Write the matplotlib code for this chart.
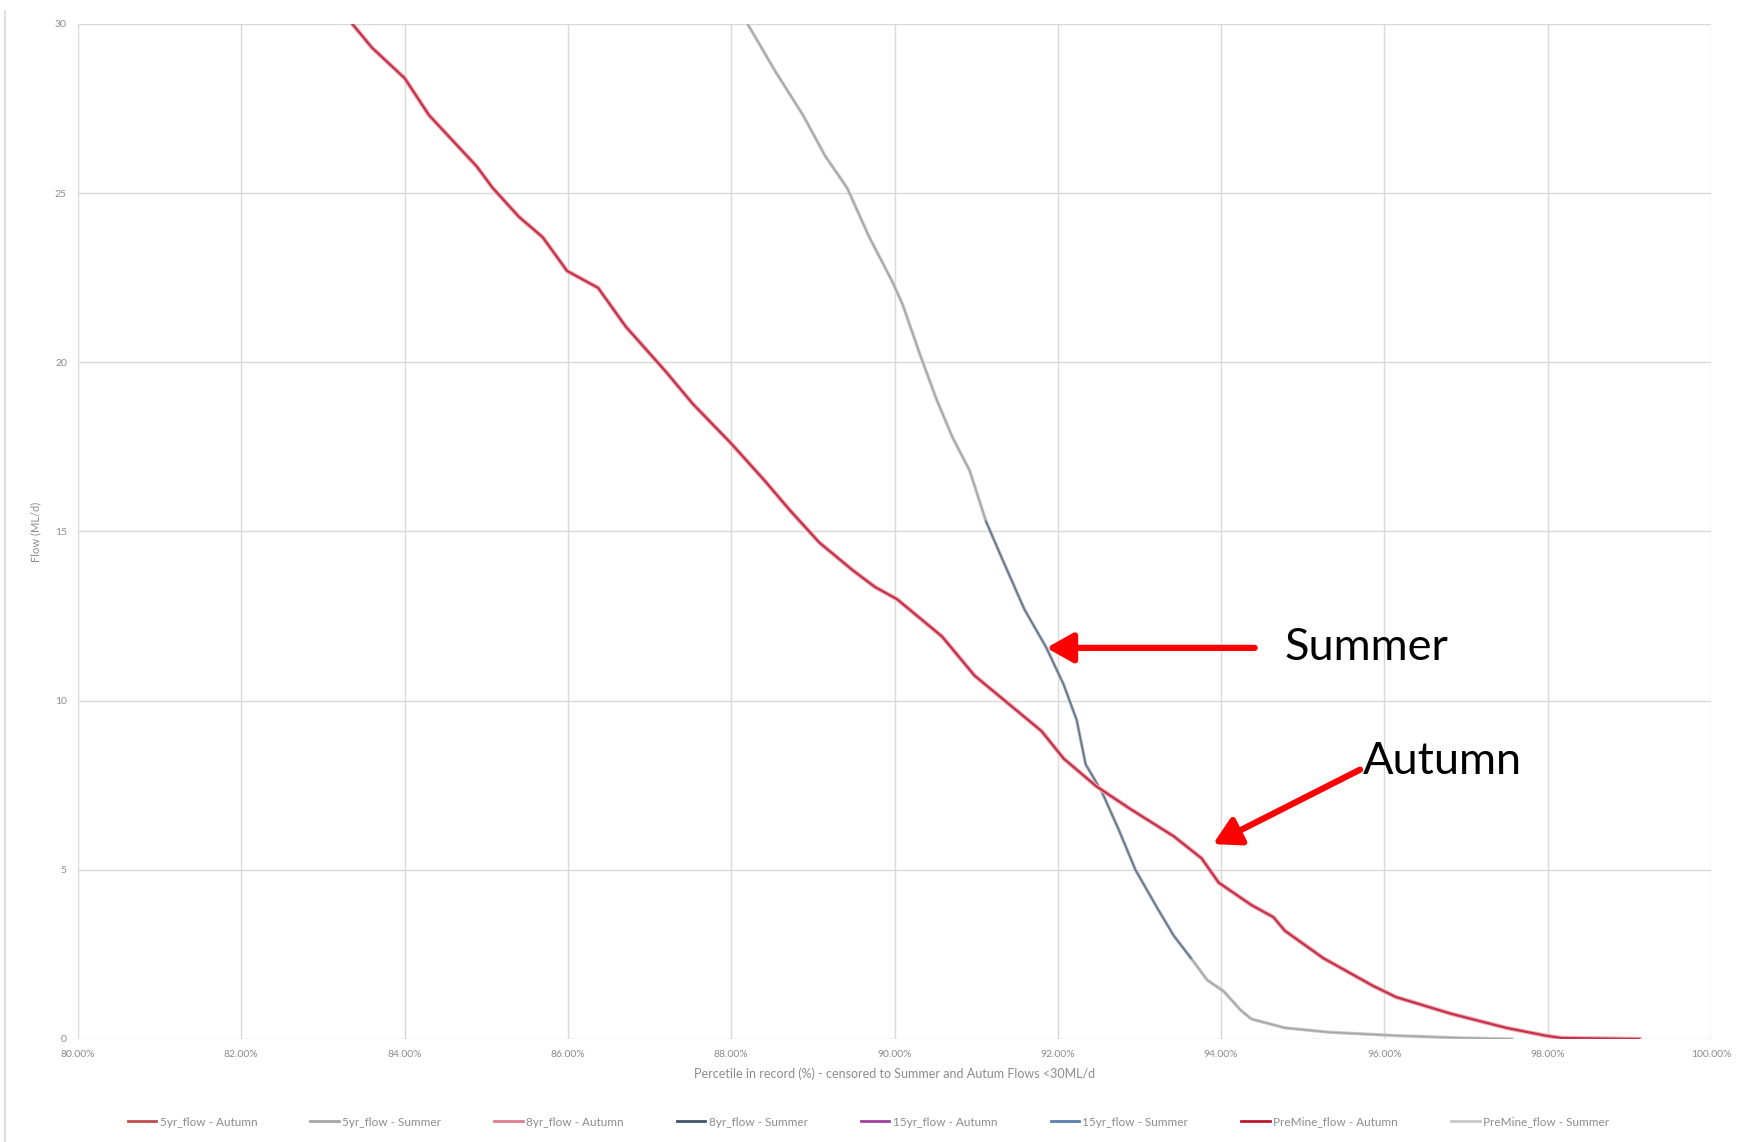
import matplotlib
matplotlib.use("Agg")
import matplotlib.pyplot as plt
import numpy as np

# Flow duration curves, censored to flows < 30 ML/d
autumn_pct = [83.36, 83.60, 84.00, 84.30, 84.88, 85.08, 85.40, 85.69, 85.99, 86.37,
              86.71, 87.19, 87.53, 88.00, 88.41, 88.71, 89.08, 89.49, 89.76, 90.03,
              90.58, 90.98, 91.39, 91.80, 92.07, 92.47, 92.88, 93.42, 93.76, 93.97,
              94.37, 94.64, 94.78, 95.25, 95.86, 96.14, 96.81, 97.49, 97.97, 98.17,
              99.12]
autumn_flow = [30.0, 29.3, 28.4, 27.3, 25.8, 25.15, 24.3, 23.7, 22.7, 22.2,
               21.05, 19.75, 18.77, 17.6, 16.5, 15.65, 14.67, 13.85, 13.36, 13.0,
               11.9, 10.74, 9.92, 9.1, 8.29, 7.47, 6.81, 5.99, 5.34, 4.62,
               3.96, 3.6, 3.2, 2.39, 1.57, 1.24, 0.75, 0.33, 0.1, 0.03,
               0.0]

summer_pct = [88.20, 88.54, 88.88, 89.15, 89.42, 89.69, 89.97, 90.10, 90.31, 90.51,
              90.71, 90.92, 91.12, 91.32, 91.59, 91.86, 92.07, 92.23, 92.34, 92.54,
              92.75, 92.95, 93.22, 93.42, 93.63, 93.83, 94.03, 94.24, 94.37, 94.78,
              95.32, 96.14, 96.95, 97.56]
summer_flow = [30.0, 28.6, 27.3, 26.1, 25.15, 23.7, 22.4, 21.7, 20.24, 18.93,
               17.78, 16.8, 15.3, 14.18, 12.7, 11.56, 10.48, 9.43, 8.12, 7.3,
               6.16, 5.0, 3.86, 3.05, 2.39, 1.74, 1.41, 0.85, 0.59, 0.33,
               0.2, 0.1, 0.03, 0.0]

# Portion of the summer curve where the 8yr/15yr series show through
summer_mid_pct = summer_pct[12:25]
summer_mid_flow = summer_flow[12:25]

series_names = ["5yr_flow - Autumn", "5yr_flow - Summer", "8yr_flow - Autumn",
                "8yr_flow - Summer", "15yr_flow - Autumn", "15yr_flow - Summer",
                "PreMine_flow - Autumn", "PreMine_flow - Summer"]
series_colors = ["#c0504d", "#a5a5a5", "#e07b91", "#44546a",
                 "#a040a0", "#5b7fae", "#c0182f", "#c8c8c8"]

x_ticks = [80, 82, 84, 86, 88, 90, 92, 94, 96, 98, 100]
y_ticks = [0, 5, 10, 15, 20, 25, 30]

plt.rcParams["font.family"] = ["Lato", "DejaVu Sans"]

fig = plt.figure(figsize=(17.37, 11.42), dpi=100)
ax = fig.add_axes([0.0449, 0.0902, 0.9402, 0.8888])

grid_c = "#d9d9d9"
for t in x_ticks:
    ax.axvline(t, color=grid_c, lw=1.0, zorder=0)
for t in y_ticks:
    ax.axhline(t, color=grid_c, lw=1.0, zorder=0)

# Summer curves (grey, with the blue series visible mid-curve)
ax.plot(summer_pct, summer_flow, color=series_colors[7], lw=2.4, zorder=2)
ax.plot(summer_pct, summer_flow, color=series_colors[1], lw=1.0, zorder=2)
ax.plot(summer_mid_pct, summer_mid_flow, color=series_colors[5], lw=1.8, alpha=0.45, zorder=3)
ax.plot(summer_mid_pct, summer_mid_flow, color=series_colors[3], lw=0.9, alpha=0.5, zorder=3)

# Autumn curves (red series overlapping)
ax.plot(autumn_pct, autumn_flow, color="#eab0b8", lw=3.2, zorder=4)
ax.plot(autumn_pct, autumn_flow, color="#c8304a", lw=1.6, zorder=5)

ax.set_xlim(80, 100)
ax.set_ylim(0, 30)
ax.set_xticks(x_ticks)
ax.set_xticklabels([f"{t:.2f}%" for t in x_ticks])
ax.set_yticks(y_ticks)
for s in ax.spines.values():
    s.set_visible(False)
ax.tick_params(length=0, labelsize=7.5, labelcolor="#8c8c8c", pad=8)
ax.set_xlabel("Percetile in record (%) - censored to Summer and Autum Flows <30ML/d",
              fontsize=9, color="#8c8c8c", labelpad=6)
ax.set_ylabel("Flow (ML/d)", fontsize=8, color="#8c8c8c", labelpad=10)

# Legend
handles = [plt.Line2D([], [], color=c, lw=2) for c in series_colors]
fig.legend(handles, series_names, loc="center", bbox_to_anchor=(0.5, 0.0175),
           ncol=8, frameon=False, fontsize=8.5, labelcolor="#8c8c8c",
           handlelength=2.4, columnspacing=4.5, handletextpad=0.3)

# Season annotations
arrow_kw = dict(arrowstyle="-|>,head_length=1.6,head_width=0.9", color="#ff0000",
                lw=4.5, shrinkA=0, shrinkB=0)
ax.annotate("", xy=(91.86, 11.56), xytext=(94.41, 11.56), arrowprops=arrow_kw, zorder=6)
ax.text(94.78, 11.56, "Summer", fontsize=32.5, color="black", va="center", ha="left", zorder=6)
ax.annotate("", xy=(93.90, 5.76), xytext=(95.70, 7.96), arrowprops=arrow_kw, zorder=6)
ax.text(95.74, 8.2, "Autumn", fontsize=32.5, color="black", va="center", ha="left", zorder=6)

# Chart-area border on the left
fig.add_artist(plt.Line2D([0.003, 0.003], [0.0, 0.99], transform=fig.transFigure,
                          color="#d9d9d9", lw=1.2))

fig.savefig("out.png", dpi=100, facecolor="white")
